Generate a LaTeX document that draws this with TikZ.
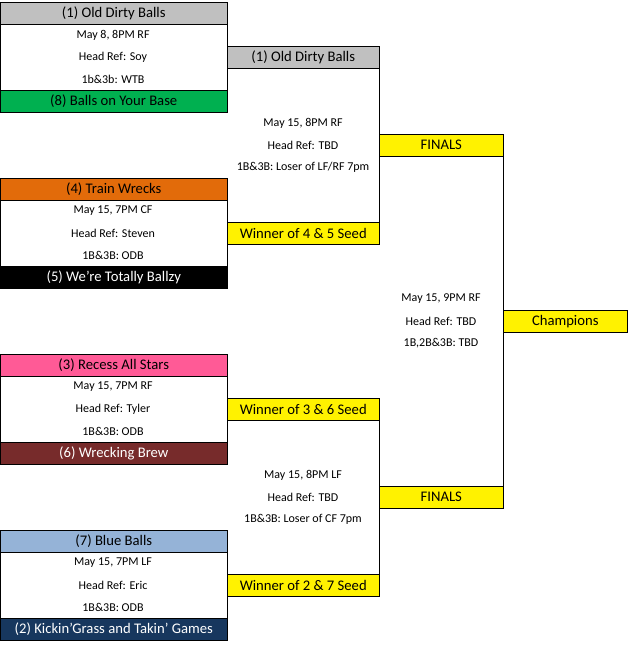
\documentclass[tikz,border=0pt]{standalone}
\usepackage{fontspec}
\setmainfont{Carlito}
\definecolor{hdgray}{HTML}{C0C0C0}
\definecolor{hdgreen}{HTML}{00B050}
\definecolor{hdorange}{HTML}{E26B0A}
\definecolor{hdpink}{HTML}{FF5A96}
\definecolor{hdbrew}{HTML}{772B2B}
\definecolor{hdblue}{HTML}{95B3D7}
\definecolor{hdnavy}{HTML}{17375E}
\tikzset{
  team/.style={draw, minimum width=227*0.75pt, minimum height=22*0.75pt, inner sep=0pt, anchor=north west, font=\fontsize{11}{12}\selectfont},
  slot/.style={draw, fill=yellow, minimum height=22*0.75pt, inner sep=0pt, anchor=north west, font=\fontsize{11}{12}\selectfont},
  info/.style={font=\fontsize{9}{10}\selectfont, inner sep=0pt}
}
\begin{document}
\begin{tikzpicture}[x=0.75pt,y=-0.75pt]
	\useasboundingbox (0,0) rectangle (630,645);
	
	% first round
	\node[team, fill=hdgray] (odb) at (0,2) {(1) Old Dirty Balls};
	\node[team, fill=hdgreen] (boyb) at (0,90) {(8) Balls on Your Base};
	\node[team, fill=hdorange] (tw) at (0,178) {(4) Train Wrecks};
	\node[team, fill=black, text=white] (wtb) at (0,266) {(5) We're Totally Ballzy};
	\node[team, fill=hdpink] (ras) at (0,354) {(3) Recess All Stars};
	\node[team, fill=hdbrew, text=white] (wb) at (0,442) {(6) Wrecking Brew};
	\node[team, fill=hdblue] (bb) at (0,530) {(7) Blue Balls};
	\node[team, fill=hdnavy, text=white] (kg) at (0,618) {(2) Kickin'Grass and Takin' Games};
	
	\draw (odb.south west) -- (boyb.north west);
	\draw (odb.south east) -- (boyb.north east);
	\draw (tw.south west) -- (wtb.north west);
	\draw (tw.south east) -- (wtb.north east);
	\draw (ras.south west) -- (wb.north west);
	\draw (ras.south east) -- (wb.north east);
	\draw (bb.south west) -- (kg.north west);
	\draw (bb.south east) -- (kg.north east);
	
	\node[info] (g1a) at (113,35) {May 8, 8PM RF};
	\node[info] (g1b) at (113,57) {Head Ref: Soy};
	\node[info] (g1c) at (113,79) {1b\&3b: WTB};
	\node[info] (g2a) at (113,211) {May 15, 7PM CF};
	\node[info] (g2b) at (113,233) {Head Ref: Steven};
	\node[info] (g2c) at (113,255) {1B\&3B: ODB};
	\node[info] (g3a) at (113,387) {May 15, 7PM RF};
	\node[info] (g3b) at (113,409) {Head Ref: Tyler};
	\node[info] (g3c) at (113,431) {1B\&3B: ODB};
	\node[info] (g4a) at (113,563) {May 15, 7PM LF};
	\node[info] (g4b) at (113,585) {Head Ref: Eric};
	\node[info] (g4c) at (113,607) {1B\&3B: ODB};
	
	% second round
	\node[team, fill=hdgray, minimum width=152*0.75pt] (odb2) at (227,46) {(1) Old Dirty Balls};
	\node[slot, minimum width=152*0.75pt] (w45) at (227,222) {Winner of 4 \& 5 Seed};
	\node[slot, minimum width=152*0.75pt] (w36) at (227,398) {Winner of 3 \& 6 Seed};
	\node[slot, minimum width=152*0.75pt] (w27) at (227,574) {Winner of 2 \& 7 Seed};
	\draw (odb2.south east) -- (w45.north east);
	\draw (w36.south east) -- (w27.north east);
	
	\node[info] (s1a) at (303,123) {May 15, 8PM RF};
	\node[info] (s1b) at (303,145) {Head Ref: TBD};
	\node[info] (s1c) at (303,167) {1B\&3B: Loser of LF/RF 7pm};
	\node[info] (s2a) at (303,475) {May 15, 8PM LF};
	\node[info] (s2b) at (303,497) {Head Ref: TBD};
	\node[info] (s2c) at (303,519) {1B\&3B: Loser of CF 7pm};
	
	% finals
	\node[slot, minimum width=124*0.75pt] (fin1) at (379,134) {FINALS};
	\node[slot, minimum width=124*0.75pt] (fin2) at (379,486) {FINALS};
	\draw (fin1.south east) -- (fin2.north east);
	
	\node[info] (f1) at (441,299) {May 15, 9PM RF};
	\node[info] (f2) at (441,321) {Head Ref: TBD};
	\node[info] (f3) at (441,343) {1B,2B\&3B: TBD};
	
	\node[slot, minimum width=124*0.75pt] (champ) at (503,310) {Champions};
\end{tikzpicture}
\end{document}
